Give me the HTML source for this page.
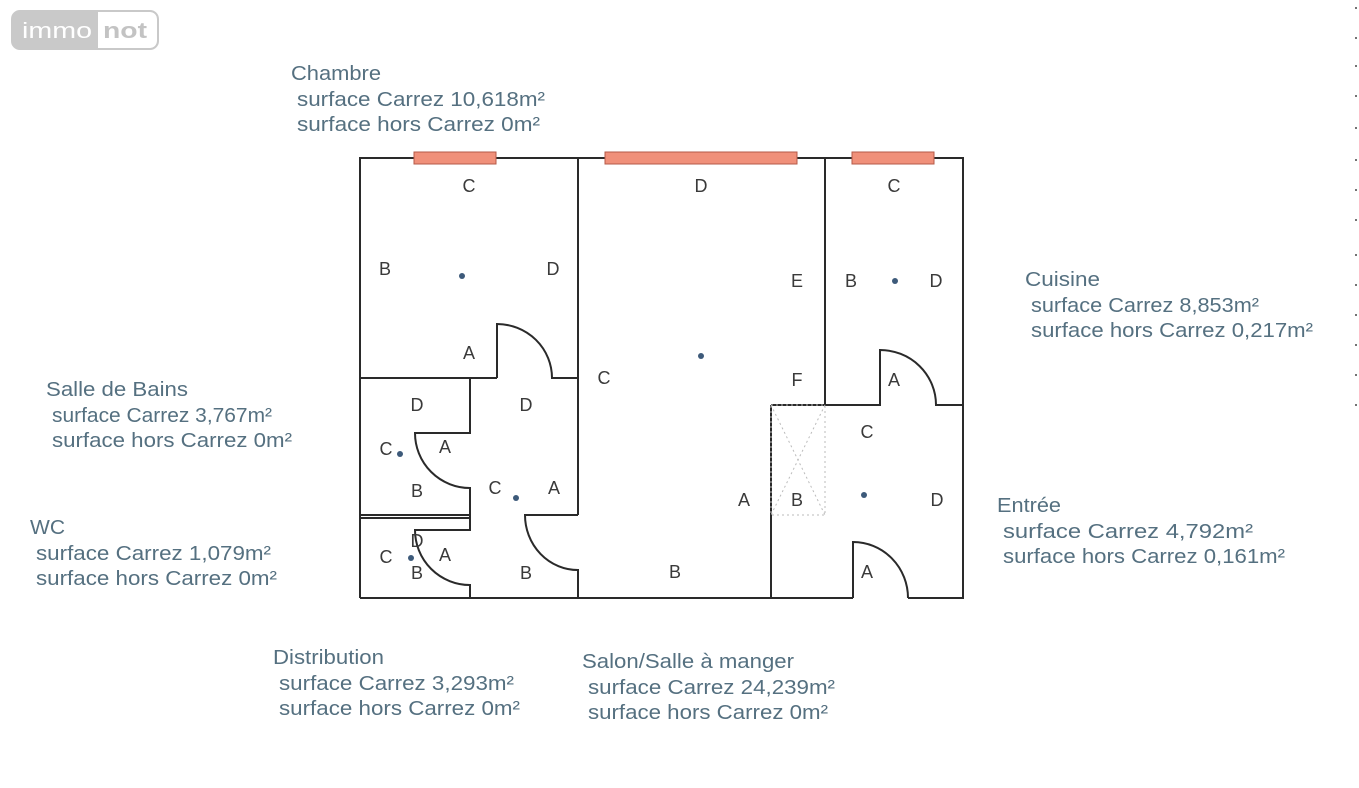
<!DOCTYPE html>
<html><head><meta charset="utf-8"><style>
html,body{margin:0;padding:0;background:#fff;width:1359px;height:788px;overflow:hidden}
svg{display:block}
.l{font-family:"Liberation Sans",sans-serif;font-size:20px;fill:#557080}
.p{font-family:"Liberation Sans",sans-serif;font-size:18px;fill:#3a3a3a}
</style></head><body>
<svg width="1359" height="788" viewBox="0 0 1359 788" xmlns="http://www.w3.org/2000/svg">
<rect x="12" y="11" width="146" height="38" rx="8" fill="#c9c9c9"/>
<path d="M98 12 H150 a7 7 0 0 1 7 7 V41 a7 7 0 0 1 -7 7 H98 Z" fill="#fff"/>
<rect x="12" y="11" width="146" height="38" rx="8" fill="none" stroke="#c9c9c9" stroke-width="2"/>
<text x="22" y="38" font-family="Liberation Sans,sans-serif" font-size="22" fill="#fff" textLength="70" lengthAdjust="spacingAndGlyphs">immo</text>
<text x="103" y="38" font-family="Liberation Sans,sans-serif" font-size="22" font-weight="bold" fill="#c3c3c3" textLength="44" lengthAdjust="spacingAndGlyphs">not</text>

<g fill="none" stroke="#2a2a2a" stroke-width="2">
<polyline points="360,598 360,158 963,158 963,598 908,598"/>
<line x1="853" y1="598" x2="360" y2="598"/>
<path d="M853 598 V542 A55 56 0 0 1 908 598"/>
<line x1="578" y1="158" x2="578" y2="515"/>
<line x1="360" y1="378" x2="497" y2="378"/>
<path d="M497 378 V324 A55 54 0 0 1 552 378 H578"/>
<line x1="825" y1="158" x2="825" y2="405"/>
<path d="M771 405 H880 V350 A56 55 0 0 1 936 405 H963"/>
<line x1="771" y1="405" x2="771" y2="598"/>
<path d="M578 515 H525 A53 55 0 0 0 578 570 V598"/>
<path d="M470 378 V433 H415 A55 55 0 0 0 470 488 V515"/>
<line x1="360" y1="515" x2="470" y2="515"/>
<line x1="360" y1="518" x2="470" y2="518"/>
<path d="M470 515 V530 H415 A55 55 0 0 0 470 585 V598"/>
</g>
<g fill="none" stroke="#bbb" stroke-width="1" stroke-dasharray="2,3">
<rect x="771" y="405" width="54" height="110"/>
<line x1="771" y1="405" x2="825" y2="515"/>
<line x1="825" y1="405" x2="771" y2="515"/>
</g>
<g fill="#f0907a" stroke="#b55a48" stroke-width="1">
<rect x="414" y="152" width="82" height="12"/>
<rect x="605" y="152" width="192" height="12"/>
<rect x="852" y="152" width="82" height="12"/>
</g>
<g fill="#3d5a7a">
<circle cx="462" cy="276" r="3"/><circle cx="701" cy="356" r="3"/><circle cx="895" cy="281" r="3"/>
<circle cx="400" cy="454" r="3"/><circle cx="516" cy="498" r="3"/><circle cx="411" cy="558" r="3"/>
<circle cx="864" cy="495" r="3"/>
</g>
<g class="p" text-anchor="middle">
<text x="469" y="192">C</text><text x="385" y="275">B</text><text x="553" y="275">D</text><text x="469" y="359">A</text>
<text x="701" y="192">D</text><text x="797" y="287">E</text><text x="797" y="386">F</text><text x="604" y="384">C</text>
<text x="744" y="506">A</text><text x="675" y="578">B</text>
<text x="894" y="192">C</text><text x="851" y="287">B</text><text x="936" y="287">D</text><text x="894" y="386">A</text>
<text x="867" y="438">C</text><text x="797" y="506">B</text><text x="937" y="506">D</text><text x="867" y="578">A</text>
<text x="417" y="411">D</text><text x="386" y="455">C</text><text x="445" y="453">A</text><text x="417" y="497">B</text>
<text x="526" y="411">D</text><text x="495" y="494">C</text><text x="554" y="494">A</text><text x="526" y="579">B</text>
<text x="386" y="563">C</text><text x="417" y="547">D</text><text x="445" y="561">A</text><text x="417" y="579">B</text>
</g>
<g class="l">
<text x="291" y="80" textLength="90" lengthAdjust="spacingAndGlyphs">Chambre</text><text x="297" y="106" textLength="248" lengthAdjust="spacingAndGlyphs">surface Carrez  10,618m²</text><text x="297" y="131" textLength="243" lengthAdjust="spacingAndGlyphs">surface hors Carrez  0m²</text>
<text x="1025" y="286" textLength="75" lengthAdjust="spacingAndGlyphs">Cuisine</text><text x="1031" y="312" textLength="228" lengthAdjust="spacingAndGlyphs">surface Carrez  8,853m²</text><text x="1031" y="337" textLength="282" lengthAdjust="spacingAndGlyphs">surface hors Carrez  0,217m²</text>
<text x="46" y="396" textLength="142" lengthAdjust="spacingAndGlyphs">Salle de Bains</text><text x="52" y="422" textLength="220" lengthAdjust="spacingAndGlyphs">surface Carrez  3,767m²</text><text x="52" y="447" textLength="240" lengthAdjust="spacingAndGlyphs">surface hors Carrez  0m²</text>
<text x="30" y="534" textLength="35" lengthAdjust="spacingAndGlyphs">WC</text><text x="36" y="560" textLength="235" lengthAdjust="spacingAndGlyphs">surface Carrez  1,079m²</text><text x="36" y="585" textLength="241" lengthAdjust="spacingAndGlyphs">surface hors Carrez  0m²</text>
<text x="997" y="512" textLength="64" lengthAdjust="spacingAndGlyphs">Entrée</text><text x="1003" y="538" textLength="250" lengthAdjust="spacingAndGlyphs">surface Carrez  4,792m²</text><text x="1003" y="563" textLength="282" lengthAdjust="spacingAndGlyphs">surface hors Carrez  0,161m²</text>
<text x="273" y="664" textLength="111" lengthAdjust="spacingAndGlyphs">Distribution</text><text x="279" y="690" textLength="235" lengthAdjust="spacingAndGlyphs">surface Carrez  3,293m²</text><text x="279" y="715" textLength="241" lengthAdjust="spacingAndGlyphs">surface hors Carrez  0m²</text>
<text x="582" y="668" textLength="212" lengthAdjust="spacingAndGlyphs">Salon/Salle à manger</text><text x="588" y="694" textLength="247" lengthAdjust="spacingAndGlyphs">surface Carrez  24,239m²</text><text x="588" y="719" textLength="240" lengthAdjust="spacingAndGlyphs">surface hors Carrez  0m²</text>
</g>
<g stroke="#444" stroke-width="1.5">
<line x1="1355" y1="8" x2="1357" y2="8"/><line x1="1355" y1="38" x2="1357" y2="38"/><line x1="1355" y1="66" x2="1357" y2="66"/>
<line x1="1355" y1="96" x2="1357" y2="96"/><line x1="1355" y1="128" x2="1357" y2="128"/><line x1="1355" y1="160" x2="1357" y2="160"/>
<line x1="1355" y1="190" x2="1357" y2="190"/><line x1="1355" y1="220" x2="1357" y2="220"/><line x1="1355" y1="255" x2="1357" y2="255"/>
<line x1="1355" y1="285" x2="1357" y2="285"/><line x1="1355" y1="315" x2="1357" y2="315"/><line x1="1355" y1="345" x2="1357" y2="345"/>
<line x1="1355" y1="375" x2="1357" y2="375"/><line x1="1355" y1="405" x2="1357" y2="405"/>
</g>
</svg>
</body></html>
